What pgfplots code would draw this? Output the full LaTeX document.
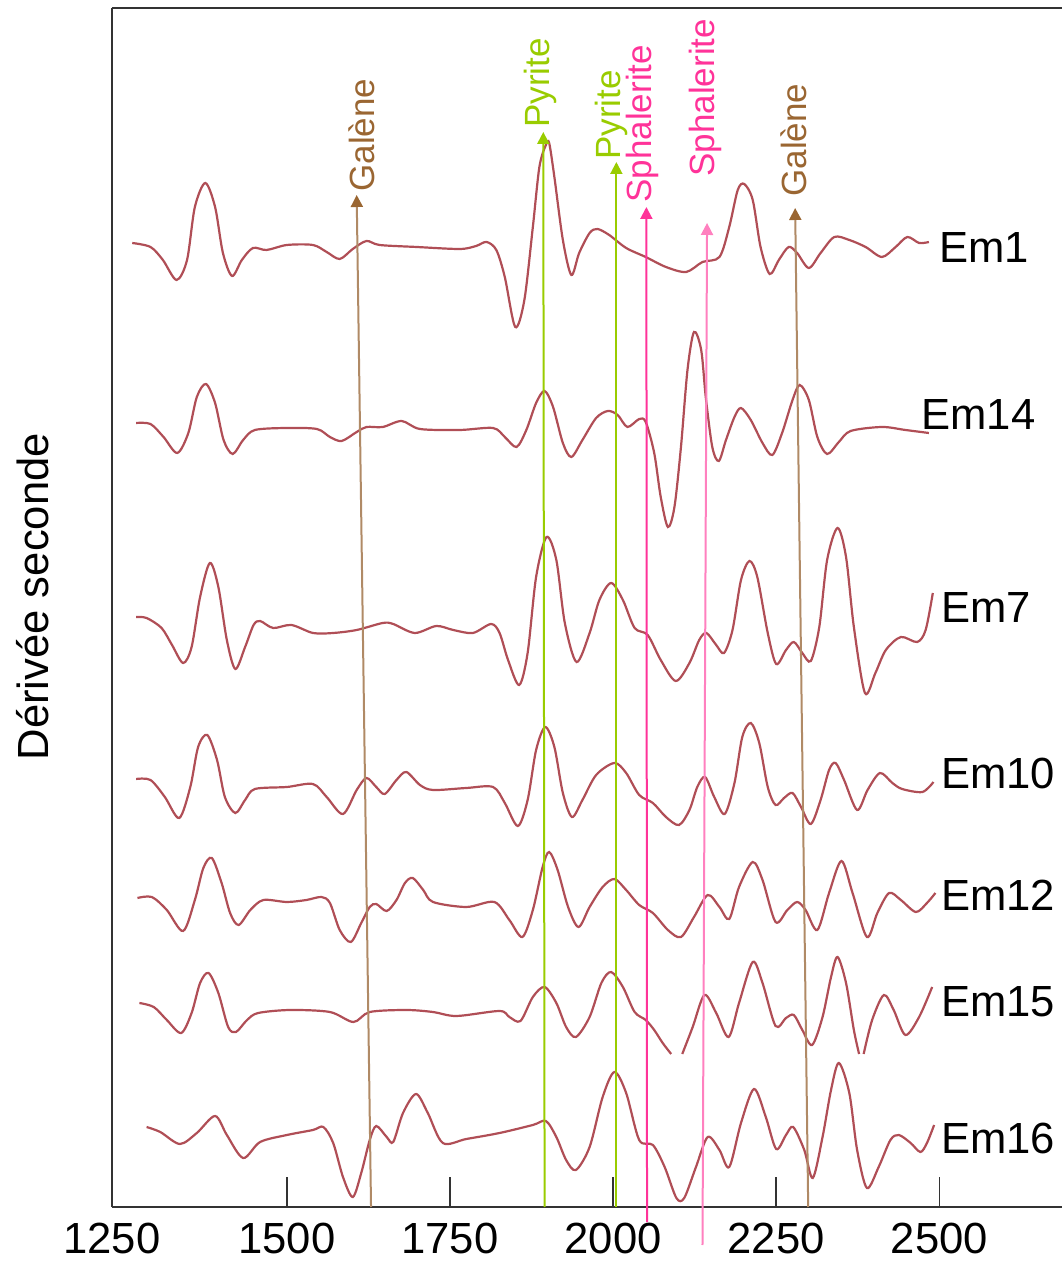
\documentclass[border=0pt]{standalone}
\usepackage{fontspec}
\setmainfont{Liberation Sans}
\usepackage{pgfplots}
\pgfplotsset{compat=1.18}
\usetikzlibrary{arrows.meta}

\definecolor{curve}{HTML}{B04E56}
\definecolor{galene}{HTML}{9A6632}
\definecolor{galeneline}{HTML}{B08A66}
\definecolor{pyrite}{HTML}{99CC00}
\definecolor{sphal}{HTML}{FF3399}
\definecolor{sphal2}{HTML}{FF80BF}

\newcommand{\bigfont}{\fontsize{21.8}{26}\selectfont}
\newcommand{\minfont}{\fontsize{17.5}{21}\selectfont}

\pgfplotsset{spec/.style={curve, line width=1.1pt, smooth, tension=0.5, mark=none, solid}}

\begin{document}
\begin{tikzpicture}
\begin{axis}[
    scale only axis,
    width=475pt, height=599.5pt,
    xmin=1232, xmax=2688,
    ymin=0, ymax=1199,
    axis y line*=left,
    axis line style={line width=1pt, color=black!80},
    ytick=\empty,
    xtick={1232,1500,1750,2000,2250,2500},
    xticklabels={1250,1500,1750,2000,2250,2500},
    xtick pos=left,
    xtick align=inside,
    major tick length=15pt,
    every tick/.style={line width=0.75pt, black!80},
    /pgf/number format/assume math mode=true,
    xticklabel style={font=\bigfont, yshift=-4.5pt},
    ylabel={Dérivée seconde},
    every axis y label/.style={at={([xshift=-39.5pt]rel axis cs:0,0.509)}, anchor=center, rotate=90, font=\bigfont},
    clip=false,
]

% Em1
\addplot[spec] coordinates {
(1263,964) (1291,960) (1310,947) (1331,927) (1347,947) (1359,1000) (1375,1024) (1390,1000)
(1402,954) (1416,931) (1431,947) (1448,959) (1469,957) (1500,962) (1540,962) (1561,955)
(1581,948) (1601,958) (1622,966) (1642,962) (1699,960) (1765,958) (1790,961) (1806,965)
(1821,957) (1834,930) (1850,880) (1864,907) (1877,980) (1887,1040) (1897,1062) (1902,1064)
(1910,1030) (1923,967) (1936,932) (1948,954) (1964,974) (1976,978) (1994,972) (2020,959)
(2050,950) (2081,940) (2112,935) (2137,945) (2163,950) (2178,980) (2191,1017) (2201,1023)
(2214,1007) (2226,960) (2240,933) (2254,947) (2269,960) (2282,954) (2300,939) (2318,954)
(2339,970) (2362,967) (2387,960) (2412,950) (2433,960) (2451,970) (2469,964) (2484,965)
};

% Em14
\addplot[spec] coordinates {
(1269,784) (1291,783) (1311,770) (1332,754) (1349,774) (1362,810) (1376,823) (1390,804)
(1403,767) (1417,753) (1433,767) (1451,777) (1500,779) (1546,778) (1566,770) (1584,766)
(1607,775) (1622,780) (1647,780) (1676,786) (1704,778) (1765,777) (1816,779) (1834,770)
(1852,760) (1867,777) (1882,804) (1895,816) (1908,800) (1923,764) (1936,750) (1953,767)
(1974,789) (1992,796) (2007,792) (2022,780) (2040,788) (2050,785) (2063,754) (2073,710)
(2084,680) (2094,700) (2104,760) (2114,837) (2124,875) (2135,857) (2142,810) (2152,760)
(2162,746) (2173,767) (2186,790) (2196,799) (2211,787) (2229,764) (2244,752) (2259,774)
(2275,807) (2286,822) (2300,807) (2313,770) (2328,753) (2346,765) (2364,776) (2412,780)
(2448,777) (2484,774)
};

% Em7
\addplot[spec] coordinates {
(1269,590) (1285,589) (1308,579) (1324,562) (1341,544) (1354,560) (1367,610) (1382,644)
(1395,620) (1408,567) (1421,538) (1436,560) (1449,582) (1459,586) (1479,579) (1507,582)
(1540,574) (1571,574) (1607,577) (1647,584) (1663,583) (1696,574) (1729,581) (1755,577)
(1785,574) (1813,583) (1826,574) (1839,547) (1856,522) (1869,554) (1882,630) (1898,670)
(1913,647) (1926,584) (1944,545) (1964,574) (1979,607) (1997,624) (2015,607) (2033,579)
(2053,572) (2073,547) (2096,526) (2117,544) (2132,567) (2143,574) (2158,562) (2170,554)
(2183,577) (2196,627) (2209,646) (2221,630) (2237,574) (2250,543) (2265,557) (2277,565)
(2290,554) (2303,546) (2316,580) (2328,647) (2344,679) (2357,650) (2369,580) (2386,514)
(2402,534) (2418,557) (2441,570) (2466,565) (2479,577) (2490,614)
};

% Em10
\addplot[spec] coordinates {
(1269,428) (1291,427) (1313,410) (1335,389) (1352,420) (1364,460) (1378,472) (1393,447)
(1405,410) (1421,394) (1436,407) (1451,418) (1500,420) (1540,423) (1561,410) (1586,393)
(1607,417) (1622,429) (1637,420) (1650,413) (1668,427) (1683,435) (1704,422) (1724,417)
(1775,419) (1816,420) (1834,404) (1854,381) (1869,407) (1882,457) (1896,480) (1910,460)
(1923,414) (1937,390) (1953,407) (1974,432) (2002,444) (2020,434) (2040,412) (2061,404)
(2081,390) (2101,382) (2117,397) (2129,420) (2141,430) (2155,410) (2171,393) (2186,424)
(2198,470) (2211,484) (2224,464) (2237,420) (2249,402) (2262,409) (2275,414) (2288,400)
(2303,383) (2318,407) (2331,437) (2341,444) (2354,427) (2374,397) (2390,417) (2409,434)
(2428,424) (2443,418) (2474,415) (2491,425)
};

% Em12
\addplot[spec] coordinates {
(1271,309) (1293,310) (1316,297) (1341,276) (1359,307) (1372,339) (1385,349) (1400,324)
(1413,294) (1426,282) (1444,297) (1464,307) (1500,305) (1530,307) (1553,310) (1566,304)
(1581,277) (1598,265) (1614,284) (1627,300) (1637,303) (1653,296) (1668,307) (1681,324)
(1693,329) (1709,317) (1724,305) (1775,300) (1818,305) (1841,287) (1861,270) (1877,297)
(1892,340) (1902,355) (1915,337) (1931,300) (1947,280) (1964,300) (1984,320) (2002,328)
(2020,317) (2040,302) (2061,294) (2084,277) (2104,270) (2124,290) (2145,312) (2163,300)
(2178,288) (2193,320) (2214,345) (2229,327) (2249,285) (2267,297) (2282,305) (2295,297)
(2313,277) (2331,314) (2350,346) (2367,314) (2389,270) (2405,294) (2423,314) (2441,307)
(2464,295) (2481,304) (2494,314)
};

% Em15 (three pieces, the curve is cut where it dips)
\addplot[spec] coordinates {
(1274,204) (1296,200) (1316,187) (1338,174) (1354,194) (1367,224) (1380,234) (1395,214)
(1410,180) (1422,175) (1439,187) (1456,194) (1505,197) (1566,195) (1602,185) (1627,195)
(1683,197) (1724,195) (1760,191) (1826,196) (1841,190) (1858,186) (1877,210) (1895,220)
(1913,204) (1928,180) (1943,170) (1964,190) (1982,224) (1997,235) (2015,220) (2033,195)
(2050,187) (2063,177) (2076,164) (2089,153)
};
\addplot[spec] coordinates {
(2106,153) (2122,180) (2140,212) (2158,194) (2177,170) (2193,204) (2214,245) (2229,224)
(2249,181) (2265,189) (2277,192) (2290,177) (2305,162) (2321,190) (2334,230) (2344,250)
(2357,224) (2369,177) (2377,153)
};
\addplot[spec] coordinates {
(2384,153) (2397,187) (2415,212) (2430,197) (2448,172) (2469,190) (2489,220)
};

% Em16
\addplot[spec] coordinates {
(1285,80) (1306,75) (1336,63) (1362,74) (1390,91) (1408,72) (1433,49) (1459,65)
(1500,72) (1540,77) (1556,80) (1571,64) (1586,30) (1601,10) (1614,34) (1627,67)
(1637,81) (1653,70) (1663,65) (1678,94) (1698,113) (1716,94) (1739,64) (1775,68)
(1826,74) (1877,82) (1897,86) (1913,70) (1928,47) (1943,37) (1964,60) (1984,110)
(2002,135) (2020,114) (2040,67) (2061,62) (2079,40) (2097,9) (2109,9) (2127,40)
(2145,70) (2163,57) (2178,40) (2196,84) (2216,118) (2234,90) (2250,58) (2265,72)
(2276,80) (2293,57) (2306,29) (2321,70) (2334,117) (2346,144) (2362,114) (2374,57)
(2389,19) (2407,40) (2425,67) (2438,72) (2456,64) (2471,55) (2481,64) (2492,82)
};

% sample names
\node[anchor=west, inner sep=0pt, font=\bigfont] at (axis cs:2499,959) {Em1};
\node[anchor=west, inner sep=0pt, font=\bigfont] at (axis cs:2472,792) {Em14};
\node[anchor=west, inner sep=0pt, font=\bigfont] at (axis cs:2502,599) {Em7};
\node[anchor=west, inner sep=0pt, font=\bigfont] at (axis cs:2502,434) {Em10};
\node[anchor=west, inner sep=0pt, font=\bigfont] at (axis cs:2502,312) {Em12};
\node[anchor=west, inner sep=0pt, font=\bigfont] at (axis cs:2502,205) {Em15};
\node[anchor=west, inner sep=0pt, font=\bigfont] at (axis cs:2502,69) {Em16};

% mineral bands
\draw[galeneline, line width=1pt, -{Triangle[length=6pt,width=6pt,color=galene]}] (axis cs:1629,0) -- (axis cs:1607,1012);
\draw[pyrite, line width=1pt, -{Triangle[length=6pt,width=6pt]}] (axis cs:1895,0) -- (axis cs:1893,1075);
\draw[pyrite, line width=1pt, -{Triangle[length=6pt,width=6pt]}] (axis cs:2005,0) -- (axis cs:2005,1045);
\draw[sphal, line width=1pt, -{Triangle[length=6pt,width=6pt]}] (axis cs:2052,-15) -- (axis cs:2051,1000);
\draw[sphal2, line width=1pt, -{Triangle[length=6pt,width=6pt]}] (axis cs:2137,-38) -- (axis cs:2144,984);
\draw[galeneline, line width=1pt, -{Triangle[length=6pt,width=6pt,color=galene]}] (axis cs:2299,0) -- (axis cs:2279,999);

\node[rotate=90, anchor=west, inner sep=0pt, text=galene, font=\minfont] at (axis cs:1615,1015) {Galène};
\node[rotate=90, anchor=west, inner sep=0pt, text=pyrite, font=\minfont] at (axis cs:1889,1079) {Pyrite};
\node[rotate=90, anchor=west, inner sep=0pt, text=pyrite, font=\minfont] at (axis cs:1997,1047) {Pyrite};
\node[rotate=90, anchor=west, inner sep=0pt, text=sphal, font=\minfont] at (axis cs:2045,1004) {Sphalerite};
\node[rotate=90, anchor=west, inner sep=0pt, text=sphal, font=\minfont] at (axis cs:2141,1030) {Sphalerite};
\node[rotate=90, anchor=west, inner sep=0pt, text=galene, font=\minfont] at (axis cs:2277,1010) {Galène};

\coordinate (bl) at (rel axis cs:0,0);
\end{axis}
\pgfresetboundingbox
\path ([shift={(-56pt,-27.5pt)}]bl) rectangle ++(531pt,631pt);
\end{tikzpicture}
\end{document}
